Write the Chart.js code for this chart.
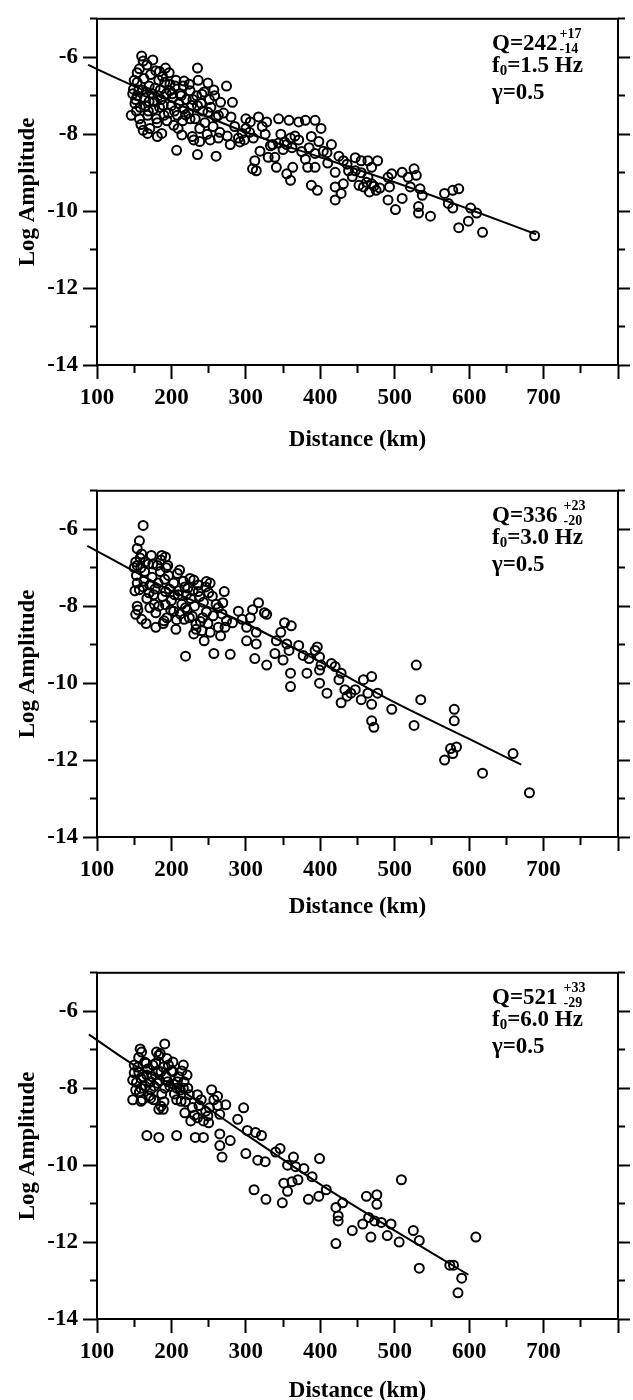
<!DOCTYPE html>
<html>
<head>
<meta charset="utf-8">
<script src="https://cdn.jsdelivr.net/npm/chart.js@4.4.0/dist/chart.umd.min.js"></script>
<style>
  body { margin: 0; background: #fff; width: 633px; height: 1400px; overflow: hidden; position: relative; }
  canvas { position: absolute; left: 0; }
</style>
</head>
<body>
<canvas id="c1" width="633" height="460" style="top:0px"></canvas>
<canvas id="c2" width="633" height="460" style="top:472px"></canvas>
<canvas id="c3" width="633" height="460" style="top:954px"></canvas>
<script>
// ---- panel 1 : f0 = 1.5 Hz ----
const dist1 = [160,175,162,192,235,184,154,249,274,217,154,149,170,282,266,241,258,225,198,182,154,151,165,184,200,217,235,249,263,280,146,157,168,190,208,225,162,168,181,187,203,214,228,230,238,252,263,279,290,295,300,306,300,317,328,344,358,371,380,393,401,388,398,371,360,355,350,344,336,339,330,319,312,309,314,341,355,360,363,380,383,393,388,396,404,415,409,425,431,436,420,420,431,428,420,447,455,447,464,477,469,464,469,458,452,475,466,491,496,493,491,510,518,526,529,521,534,537,510,501,532,532,548,567,578,586,572,578,586,602,610,599,618,688,207,235,260,
  148,152,156,158,163,166,170,172,176,178,180,183,186,188,193,196,198,202,205,210,212,215,220,223,227,232,234,238,242,245,248,253,256,260,265,270,275,285,292,298,305,310,322,326,333,347,352,362,366,375,385,393,410,438,443,455,462,472,480,
  150,153,157,159,161,164,167,169,171,174,177,179,181,185,189,191,194,197,201,204,206,209,213,216,219,224,229,236,240,244,251,257];
const amp1 = [-5.97,-6.07,-6.1,-6.28,-6.28,-6.37,-6.4,-6.67,-6.75,-6.62,-6.65,-6.83,-6.75,-7.17,-7.17,-6.96,-7.0,-6.87,-6.87,-7.0,-7.0,-7.2,-7.26,-7.3,-7.26,-7.34,-7.26,-7.43,-7.51,-7.55,-7.51,-7.6,-7.51,-7.51,-7.51,-7.6,-7.9,-7.98,-8.06,-7.98,-7.77,-8.02,-8.06,-8.15,-8.19,-8.15,-8.1,-8.27,-8.1,-7.98,-7.85,-7.68,-7.6,-7.55,-7.68,-7.6,-7.64,-7.68,-7.64,-7.64,-7.85,-8.06,-8.19,-8.15,-8.1,-8.27,-8.4,-8.23,-8.27,-8.6,-8.6,-8.44,-8.69,-8.9,-8.95,-8.86,-9.03,-9.2,-8.86,-8.65,-8.86,-8.86,-9.33,-9.46,-8.44,-8.27,-8.48,-8.57,-8.69,-8.78,-8.99,-9.37,-9.29,-9.54,-9.71,-8.61,-8.69,-8.95,-8.69,-8.69,-8.86,-9.12,-9.29,-9.37,-9.33,-9.46,-9.5,-9.12,-9.03,-9.37,-9.71,-8.99,-9.12,-8.9,-9.07,-9.37,-9.42,-9.59,-9.67,-9.96,-9.88,-10.05,-10.13,-9.54,-9.46,-9.42,-9.8,-9.92,-10.43,-9.92,-10.05,-10.26,-10.55,-10.64,-8.42,-8.53,-8.57,
  -6.95,-7.1,-6.85,-7.3,-6.55,-6.9,-7.15,-6.45,-7.35,-6.8,-7.6,-6.6,-7.1,-6.5,-6.95,-7.45,-6.7,-7.05,-6.75,-7.2,-6.95,-7.65,-7.1,-7.45,-7.25,-7.6,-7.0,-7.85,-7.4,-7.7,-8.0,-7.3,-7.8,-7.55,-7.95,-7.45,-8.05,-7.8,-8.2,-8.15,-7.95,-8.1,-7.8,-8.0,-8.3,-8.0,-8.2,-8.35,-8.05,-8.45,-8.35,-8.5,-8.75,-8.95,-9.1,-9.0,-9.25,-9.35,-9.4,
  -6.6,-7.4,-6.3,-7.75,-6.85,-7.05,-6.2,-7.4,-7.85,-6.95,-7.15,-6.35,-7.7,-6.85,-7.25,-6.65,-7.65,-6.4,-6.95,-7.4,-6.6,-7.85,-7.0,-6.75,-7.5,-6.7,-7.1,-6.6,-7.2,-6.9,-7.1,-6.85];
const fitDist1 = [88,150,200,300,400,500,600,690];
const fitAmp1 = [-6.2,-6.75,-7.15,-7.95,-8.6,-9.25,-9.95,-10.6];

// ---- panel 2 : f0 = 3.0 Hz ----
const dist2 = [162,157,154,160,152,154,173,187,192,165,181,195,211,225,230,247,252,271,154,157,171,176,192,209,222,236,255,269,263,154,152,160,171,179,179,190,192,203,206,217,219,228,233,230,241,244,252,263,266,274,282,290,295,301,306,309,317,325,328,314,314,301,312,328,339,341,347,352,361,355,350,358,360,360,371,377,385,382,393,396,399,399,401,399,409,415,420,428,425,428,433,436,441,447,458,469,455,464,469,469,472,477,496,529,535,526,567,575,578,583,580,580,618,659,681,219,257,279,
  150,153,158,162,164,167,169,174,177,182,185,188,191,194,197,200,203,207,210,214,218,221,226,231,236,239,243,247,250,256,260,268,272,
  151,155,159,163,166,170,175,178,183,186,189,193,196,199,204,208,212,216,220,224,229,233,238,242,246,249];
const amp2 = [-5.9,-6.3,-6.5,-6.64,-6.85,-6.94,-6.68,-6.68,-6.72,-6.85,-6.94,-6.94,-7.06,-7.28,-7.32,-7.36,-7.4,-7.62,-7.4,-7.57,-7.45,-7.7,-7.62,-7.7,-7.53,-7.62,-7.74,-7.91,-8.04,-8.0,-8.21,-8.34,-8.04,-8.17,-8.55,-8.38,-7.96,-8.13,-8.6,-8.34,-8.04,-8.26,-8.47,-8.72,-8.64,-8.9,-8.68,-8.55,-8.77,-8.38,-8.43,-8.13,-8.34,-8.55,-8.3,-8.09,-7.91,-8.17,-8.21,-8.68,-8.98,-8.9,-9.36,-9.53,-9.23,-8.9,-8.68,-8.43,-8.51,-8.98,-9.4,-9.15,-9.74,-10.09,-9.02,-9.28,-9.36,-9.74,-9.15,-9.06,-9.32,-9.66,-9.53,-10.0,-10.26,-9.49,-9.57,-9.74,-9.91,-10.51,-10.17,-10.34,-10.26,-10.17,-9.91,-9.83,-10.43,-10.26,-10.55,-10.98,-11.15,-10.26,-10.68,-9.53,-10.43,-11.1,-12.0,-11.7,-11.83,-11.66,-10.68,-10.98,-12.34,-11.83,-12.85,-9.3,-9.23,-9.25,
  -7.0,-7.2,-6.75,-7.5,-7.1,-7.8,-6.9,-7.25,-7.95,-7.4,-7.1,-7.75,-7.3,-8.3,-7.55,-7.85,-7.4,-8.35,-7.6,-7.95,-7.5,-8.1,-7.8,-8.0,-7.45,-8.4,-7.9,-8.15,-7.65,-8.25,-7.95,-8.2,-8.55,
  -7.6,-8.1,-7.0,-7.35,-8.45,-7.65,-6.9,-7.55,-8.0,-6.8,-8.45,-7.0,-7.2,-8.1,-7.7,-7.15,-8.2,-7.35,-7.7,-8.3,-7.6,-8.6,-7.75,-8.3,-7.5,-8.45];
const fitDist2 = [87,160,200,300,400,500,600,670];
const fitAmp2 = [-6.43,-7.2,-7.6,-8.45,-9.45,-10.5,-11.45,-12.12];

// ---- panel 3 : f0 = 6.0 Hz ----
const dist3 = [191,158,160,180,183,194,150,164,175,202,216,156,167,186,202,221,148,159,172,181,195,208,217,159,172,191,207,216,224,235,254,262,240,148,159,172,186,189,183,213,218,226,235,243,249,251,265,273,297,289,232,243,265,265,268,279,167,183,207,302,313,321,300,316,326,340,346,364,356,367,378,389,399,351,356,362,370,311,327,349,384,398,408,430,421,424,424,421,443,457,462,476,476,465,473,482,468,490,495,506,509,525,533,533,574,579,590,585,609,
  150,153,155,157,162,165,168,170,174,177,179,184,187,189,193,198,200,204,210,212,219,222,228,231,237,246,250,257,262,
  152,156,161,166,171,176,182,185,190,196,203,207,214];
const amp3 = [-6.85,-6.98,-7.06,-7.06,-7.15,-7.23,-7.4,-7.32,-7.4,-7.32,-7.4,-7.57,-7.66,-7.57,-7.57,-7.66,-7.79,-7.74,-7.83,-7.87,-7.83,-7.83,-7.83,-8.0,-8.04,-8.0,-8.0,-8.0,-8.17,-8.17,-8.04,-8.21,-8.3,-8.3,-8.34,-8.26,-8.47,-8.55,-8.55,-8.34,-8.64,-8.85,-8.77,-8.85,-8.72,-8.51,-8.68,-8.43,-8.51,-8.81,-9.28,-9.28,-9.19,-9.49,-9.79,-9.36,-9.23,-9.28,-9.23,-9.1,-9.15,-9.23,-9.7,-9.87,-9.91,-9.66,-9.57,-9.79,-10.0,-10.04,-10.09,-10.3,-9.83,-10.47,-10.68,-10.43,-10.38,-10.64,-10.89,-10.98,-10.89,-10.81,-10.64,-10.98,-11.1,-11.32,-11.45,-12.04,-11.7,-11.53,-10.81,-10.77,-11.02,-11.36,-11.45,-11.49,-11.87,-11.83,-11.53,-12.0,-10.38,-11.7,-11.96,-12.68,-12.6,-12.6,-12.94,-13.32,-11.87,
  -7.6,-7.85,-7.45,-8.1,-7.7,-7.95,-7.5,-8.2,-7.7,-7.95,-7.35,-7.8,-8.15,-7.45,-7.7,-7.95,-7.55,-8.15,-7.7,-8.05,-8.35,-8.0,-8.5,-8.7,-8.45,-8.6,-8.9,-8.3,-8.45,
  -8.05,-7.2,-8.3,-7.35,-7.85,-8.3,-7.55,-7.1,-8.35,-7.4,-7.9,-8.3,-7.55];
const fitDist3 = [89,150,200,300,400,500,599];
const fitAmp3 = [-6.6,-7.4,-7.9,-9.2,-10.5,-11.7,-12.85];

// ---- annotation text ----
const qValue = ['242', '336', '521'];
const qPlus = ['+17', '+23', '+33'];
const qMinus = ['-14', '-20', '-29'];
const f0Value = ['1.5', '3.0', '6.0'];
const gammaValue = '0.5';

const yTitle = 'Log Amplitude';
const xTitle = 'Distance (km)';
const serif = '"Liberation Serif", "Times New Roman", serif';

const framePlugin = {
  id: 'frame',
  afterDraw(chart) {
    const { ctx, chartArea: a } = chart;
    ctx.save();
    ctx.strokeStyle = '#000';
    ctx.lineWidth = 2;
    ctx.strokeRect(a.left, a.top, a.right - a.left, a.bottom - a.top);
    ctx.restore();
  }
};

// Q / f0 / gamma block in the upper right corner
const qLabel = {
  id: 'qLabel',
  afterDraw(chart, args, opts) {
    const { ctx, chartArea: a } = chart;
    const x = a.right - 126;
    const y = a.top + 25;
    ctx.save();
    ctx.fillStyle = '#000';
    ctx.textBaseline = 'middle';
    ctx.font = 'bold 23px ' + serif;
    const main = 'Q=' + opts.q;
    ctx.fillText(main, x, y);
    const w = ctx.measureText(main).width;
    ctx.font = 'bold 14px ' + serif;
    ctx.fillText(opts.plus, x + w + opts.gap, y - 9);
    ctx.fillText(opts.minus, x + w + opts.gap, y + 6);

    const y2 = a.top + 47;
    ctx.font = 'bold 23px ' + serif;
    ctx.fillText('f', x, y2);
    let fx = x + ctx.measureText('f').width;
    ctx.font = 'bold 15px ' + serif;
    ctx.fillText('0', fx, y2 + 5);
    fx += ctx.measureText('0').width;
    ctx.font = 'bold 23px ' + serif;
    ctx.fillText('=' + opts.f0 + ' Hz', fx, y2);

    ctx.fillText('\u03b3=' + opts.gamma, x, a.top + 74);
    ctx.restore();
  }
};

function tickFont() {
  return { family: serif, size: 23, weight: 'bold' };
}

function makeChart(id, i, dist, amp, fitDist, fitAmp, titlePad) {
  const pts = dist.map((d, k) => ({ x: d, y: amp[k] }));
  const fit = fitDist.map((d, k) => ({ x: d, y: fitAmp[k] }));
  return new Chart(document.getElementById(id), {
    type: 'scatter',
    data: {
      datasets: [{
        data: pts,
        pointStyle: 'circle',
        pointRadius: 4.5,
        pointBorderWidth: 2,
        pointBorderColor: '#000',
        pointBackgroundColor: 'rgba(0,0,0,0)',
        showLine: false,
      }, {
        type: 'line',
        data: fit,
        borderColor: '#000',
        borderWidth: 2,
        pointRadius: 0,
        cubicInterpolationMode: 'monotone',
        clip: false,
      }]
    },
    plugins: [framePlugin, qLabel],
    options: {
      responsive: false,
      animation: false,
      layout: { padding: { top: 12, left: 0, right: 0, bottom: 0 } },
      plugins: {
        legend: { display: false },
        tooltip: { enabled: false },
        qLabel: { q: qValue[i], plus: qPlus[i], minus: qMinus[i], f0: f0Value[i], gamma: gammaValue, gap: i === 0 ? 2 : 6 },
      },
      scales: {
        x: {
          type: 'linear',
          min: 100, max: 800,
          border: { display: false },
          grid: {
            drawOnChartArea: false, drawTicks: true, tickLength: 14, tickWidth: 2, tickColor: '#000',
            tickBorderDash: (c) => (c.tick && c.tick.value % 100 === 0) ? [] : [8, 100],
          },
          ticks: {
            stepSize: 50, autoSkip: false, maxRotation: 0, color: '#000', padding: 5, font: tickFont(),
            callback: (v) => (v % 100 === 0 && v < 800) ? String(v) : '',
          },
          title: { display: true, text: xTitle, color: '#000', font: { family: serif, size: 23, weight: 'bold' }, padding: { top: 0, bottom: titlePad } },
          afterFit: (s) => { s.height = 95; },
        },
        y: {
          type: 'linear',
          position: 'left',
          min: -14, max: -5,
          border: { display: false },
          grid: {
            drawOnChartArea: false, drawTicks: true, tickLength: 14, tickWidth: 2, tickColor: '#000',
            tickBorderDash: (c) => (c.tick && c.tick.value % 2 === 0) ? [] : [0, 7, 100],
          },
          ticks: {
            stepSize: 1, autoSkip: false, color: '#000', padding: 5, font: tickFont(),
            callback: (v) => (v % 2 === 0) ? String(v) : '',
          },
          title: { display: true, text: yTitle, color: '#000', font: { family: serif, size: 23, weight: 'bold' }, padding: { top: 14, bottom: 0 } },
          afterFit: (s) => { s.width = 97; },
        },
        y2: {
          type: 'linear',
          position: 'right',
          min: -14, max: -5,
          border: { display: false },
          grid: {
            drawOnChartArea: false, drawTicks: true, tickLength: 12, tickWidth: 2, tickColor: '#000',
            tickBorderDash: (c) => (c.tick && c.tick.value % 2 === 0) ? [] : [7, 100],
          },
          ticks: { stepSize: 1, autoSkip: false, color: 'rgba(0,0,0,0)', font: { size: 10 } },
          afterFit: (s) => { s.width = 15; },
        },
      },
    },
  });
}

makeChart('c1', 0, dist1, amp1, fitDist1, fitAmp1, 6);
makeChart('c2', 1, dist2, amp2, fitDist2, fitAmp2, 11);
makeChart('c3', 2, dist3, amp3, fitDist3, fitAmp3, 9);
</script>
</body>
</html>
